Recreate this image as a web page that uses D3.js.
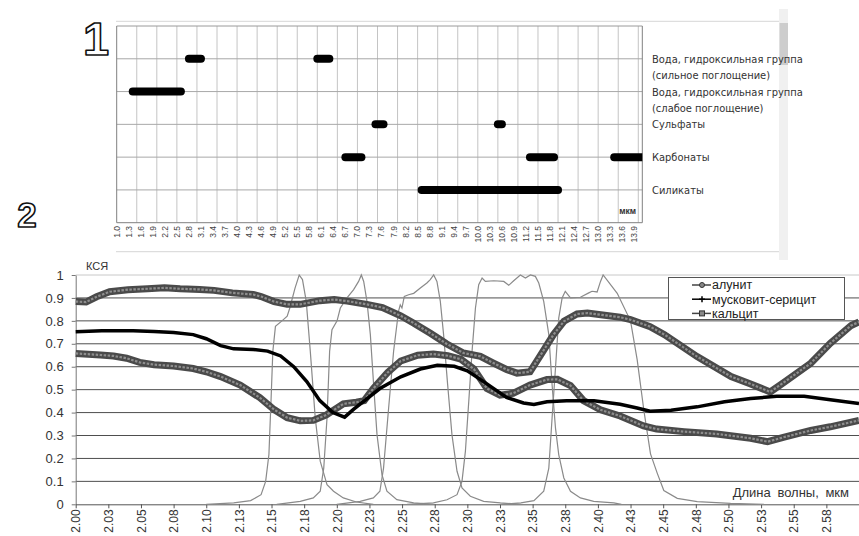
<!DOCTYPE html>
<html>
<head>
<meta charset="utf-8">
<script src="https://cdn.jsdelivr.net/npm/d3@7"></script>
<style>
  body { margin: 0; background: #fff; }
  svg { display: block; }
</style>
</head>
<body>
<div id="chart"></div>
<script>
// ---------- panel 1: absorption ranges ----------
let topTickLabels = ["1.0","1.3","1.6","1.9","2.2","2.5","2.8","3.1","3.4","3.7","4.0","4.3","4.6","4.9",
  "5.2","5.5","5.8","6.1","6.4","6.7","7.0","7.3","7.6","7.9","8.2","8.5","8.8","9.1","9.4","9.7",
  "10.0","10.3","10.6","10.9","11.2","11.5","11.8","12.1","12.4","12.7","13.0","13.3","13.6","13.9"];

let groupNames = [
  ["Вода, гидроксильная группа", "(сильное поглощение)"],
  ["Вода, гидроксильная группа", "(слабое поглощение)"],
  ["Сульфаты"],
  ["Карбонаты"],
  ["Силикаты"]
];

// one entry per black bar: group index, start and end wavelength (мкм)
let barGroup = [0, 0, 1, 2, 2, 3, 3, 3, 4];
let barFrom  = [2.8, 6.0, 1.4, 7.45, 10.5, 6.7, 11.3, 13.4, 8.6];
let barTo    = [3.1, 6.3, 2.6, 7.65, 10.6, 7.1, 11.9, 14.2, 12.0];

// ---------- panel 2: spectra (КСЯ) ----------
let yTicks = [0, 0.1, 0.2, 0.3, 0.4, 0.5, 0.6, 0.7, 0.8, 0.9, 1];
let xTicks = [2.000,2.025,2.050,2.075,2.100,2.125,2.150,2.175,2.200,2.225,2.250,2.275,
  2.300,2.325,2.350,2.375,2.400,2.425,2.450,2.475,2.500,2.525,2.550,2.575];
let xTickLabels = ["2.00","2.03","2.05","2.08","2.10","2.13","2.15","2.18","2.20","2.23","2.25","2.28",
  "2.30","2.33","2.35","2.38","2.40","2.43","2.45","2.48","2.50","2.53","2.55","2.58"];

let seriesNames = ["алунит", "мусковит-серицит", "кальцит"];

let alunite = [[2.000,0.658],[2.019,0.651],[2.029,0.647],[2.039,0.637],[2.049,0.619],[2.060,0.609],
  [2.075,0.603],[2.090,0.592],[2.100,0.578],[2.111,0.557],[2.126,0.520],[2.141,0.465],[2.152,0.413],
  [2.162,0.378],[2.172,0.364],[2.182,0.366],[2.192,0.390],[2.205,0.438],[2.215,0.445],[2.221,0.452],
  [2.228,0.505],[2.239,0.575],[2.249,0.625],[2.262,0.650],[2.274,0.655],[2.285,0.648],[2.295,0.633],
  [2.305,0.590],[2.315,0.505],[2.325,0.476],[2.335,0.484],[2.348,0.520],[2.361,0.544],[2.369,0.545],
  [2.379,0.518],[2.389,0.452],[2.402,0.412],[2.417,0.385],[2.435,0.342],[2.445,0.328],[2.466,0.317],
  [2.491,0.307],[2.517,0.288],[2.530,0.273],[2.542,0.292],[2.563,0.322],[2.578,0.338],[2.600,0.366]];

let muscovite = [[2.000,0.753],[2.020,0.757],[2.044,0.757],[2.060,0.754],[2.075,0.749],[2.090,0.740],
  [2.100,0.722],[2.111,0.692],[2.121,0.678],[2.136,0.675],[2.147,0.668],[2.157,0.647],[2.167,0.600],
  [2.177,0.535],[2.187,0.452],[2.197,0.400],[2.206,0.380],[2.213,0.415],[2.223,0.460],[2.233,0.505],
  [2.249,0.556],[2.264,0.590],[2.277,0.606],[2.290,0.602],[2.300,0.582],[2.315,0.525],[2.330,0.466],
  [2.343,0.442],[2.351,0.435],[2.361,0.447],[2.376,0.452],[2.397,0.452],[2.417,0.436],[2.430,0.420],
  [2.440,0.406],[2.456,0.410],[2.476,0.425],[2.497,0.447],[2.517,0.461],[2.537,0.471],[2.558,0.471],
  [2.578,0.456],[2.600,0.440]];

let calcite = [[2.000,0.884],[2.008,0.882],[2.016,0.905],[2.026,0.927],[2.040,0.936],[2.055,0.940],
  [2.068,0.944],[2.080,0.940],[2.095,0.937],[2.106,0.933],[2.120,0.922],[2.136,0.915],[2.142,0.906],
  [2.152,0.884],[2.162,0.872],[2.172,0.872],[2.187,0.888],[2.198,0.893],[2.208,0.886],[2.223,0.872],
  [2.235,0.858],[2.249,0.822],[2.259,0.790],[2.272,0.745],[2.284,0.700],[2.297,0.660],[2.310,0.645],
  [2.320,0.616],[2.330,0.588],[2.338,0.572],[2.348,0.578],[2.356,0.650],[2.366,0.740],[2.374,0.798],
  [2.384,0.830],[2.392,0.834],[2.417,0.816],[2.425,0.805],[2.440,0.775],[2.451,0.740],[2.476,0.644],
  [2.502,0.557],[2.517,0.525],[2.532,0.490],[2.542,0.530],[2.563,0.615],[2.578,0.702],[2.594,0.780],
  [2.600,0.795]];

// sensor band responses (thin grey curves)
let band5 = [[2.100,0],[2.121,0.006],[2.134,0.016],[2.142,0.042],[2.1455,0.10],[2.148,0.217],[2.1496,0.45],
  [2.151,0.667],[2.153,0.776],[2.158,0.80],[2.162,0.82],[2.164,0.856],[2.168,0.943],[2.1712,1.0],
  [2.1737,0.98],[2.1766,0.885],[2.1797,0.667],[2.1835,0.376],[2.1873,0.188],[2.1925,0.086],
  [2.1975,0.057],[2.205,0.028],[2.215,0.010],[2.228,0]];
let band6 = [[2.154,0],[2.172,0.013],[2.182,0.028],[2.1873,0.057],[2.190,0.158],[2.1925,0.376],
  [2.1945,0.667],[2.1963,0.762],[2.2002,0.80],[2.2027,0.856],[2.2078,0.90],[2.2129,0.936],[2.2167,0.972],
  [2.2188,1.0],[2.2206,0.972],[2.2231,0.885],[2.2257,0.74],[2.2282,0.522],[2.2308,0.304],[2.2346,0.129],
  [2.2384,0.057],[2.246,0.020],[2.2589,0.006],[2.274,0]];
let band7 = [[2.200,0],[2.2179,0.013],[2.228,0.028],[2.233,0.057],[2.2358,0.158],[2.2397,0.42],
  [2.2435,0.667],[2.2473,0.843],[2.2486,0.87],[2.2499,0.856],[2.2517,0.907],[2.255,0.914],[2.2589,0.92],
  [2.264,0.943],[2.269,0.965],[2.2716,0.98],[2.2742,1.0],[2.2767,0.972],[2.2793,0.885],[2.2818,0.74],
  [2.2849,0.522],[2.2882,0.304],[2.2921,0.144],[2.2959,0.071],[2.3023,0.035],[2.3125,0.013],
  [2.3253,0.006],[2.341,0]];
let band8 = [[2.2538,0],[2.274,0.006],[2.2844,0.020],[2.2921,0.042],[2.2959,0.10],[2.2985,0.231],
  [2.3011,0.45],[2.3036,0.667],[2.3062,0.856],[2.3087,0.958],[2.3113,0.987],[2.3138,0.972],[2.3202,0.975],
  [2.3279,0.972],[2.3317,0.955],[2.3355,0.975],[2.3406,1.0],[2.3445,0.987],[2.3483,1.0],[2.3521,0.994],
  [2.3547,0.965],[2.3585,0.885],[2.3624,0.74],[2.3649,0.522],[2.3675,0.333],[2.370,0.217],[2.3739,0.115],
  [2.379,0.057],[2.3866,0.028],[2.3968,0.013],[2.4122,0.006],[2.418,0]];
let band9 = [[2.3253,0],[2.341,0.006],[2.351,0.016],[2.3585,0.057],[2.3624,0.158],[2.3649,0.376],
  [2.3675,0.593],[2.370,0.812],[2.3726,0.90],[2.375,0.929],[2.379,0.90],[2.3866,0.903],[2.393,0.922],
  [2.3955,0.929],[2.3994,0.926],[2.402,0.972],[2.404,1.0],[2.4148,0.92],[2.425,0.80],[2.4301,0.63],
  [2.4352,0.41],[2.4403,0.22],[2.4455,0.135],[2.4505,0.06],[2.4608,0.026],[2.4761,0.012],
  [2.5016,0.004],[2.5272,0]];
let bandCurves = [band5, band6, band7, band8, band9];

// ================= drawing =================
let svg = d3.select("#chart").append("svg")
  .attr("width", 859)
  .attr("height", 536);

// ---- figure numbers (outlined digits)
function outlinedDigit(label, x, y, size) {
  svg.append("text")
    .attr("x", x).attr("y", y)
    .attr("text-anchor", "middle")
    .attr("font-family", "Liberation Sans, Arial, sans-serif")
    .attr("font-weight", "bold")
    .attr("font-size", size)
    .attr("fill", "#fff")
    .attr("stroke", "#111")
    .attr("stroke-width", 1.6)
    .attr("stroke-linejoin", "round")
    .text(label);
}
outlinedDigit("1", 96, 55, 47);
outlinedDigit("2", 27, 227, 35);

// ---- panel 1
let tx = d3.scaleLinear().domain([1.0, 14.1]).range([116.7, 642.3]);
let ty = d3.scaleLinear().domain([0, 6]).range([26, 222.7]);

// spreadsheet frame lines and scrollbar
[21.3, 251.7].forEach(y =>
  svg.append("line")
    .attr("x1", 116).attr("x2", 785)
    .attr("y1", y).attr("y2", y)
    .attr("stroke", "#d6d6d6"));

svg.append("rect")
  .attr("x", 779).attr("y", 9)
  .attr("width", 9).attr("height", 251)
  .attr("fill", "#f0f0f0");
svg.append("rect")
  .attr("x", 779.5).attr("y", 23)
  .attr("width", 8.5).attr("height", 42)
  .attr("fill", "#cdcdcd");

let g1 = svg.append("g");

// vertical grid every 0.5 мкм
g1.selectAll(".vgrid")
  .data(d3.range(1.5, 14.01, 0.5))
  .enter().append("line")
  .attr("x1", d => tx(d)).attr("x2", d => tx(d))
  .attr("y1", ty(0)).attr("y2", ty(6))
  .attr("stroke", "#c4c4c4");

// horizontal grid on each group row
g1.selectAll(".hgrid")
  .data(d3.range(0, 6))
  .enter().append("line")
  .attr("x1", tx.range()[0]).attr("x2", tx.range()[1])
  .attr("y1", d => ty(d)).attr("y2", d => ty(d))
  .attr("stroke", d => d === 0 ? "#9a9a9a" : "#a8a8a8");

// plot borders
g1.append("line")
  .attr("x1", tx.range()[0]).attr("x2", tx.range()[0])
  .attr("y1", ty(0)).attr("y2", ty(6)).attr("stroke", "#808080");
g1.append("line")
  .attr("x1", tx.range()[1]).attr("x2", tx.range()[1])
  .attr("y1", ty(0)).attr("y2", ty(6)).attr("stroke", "#808080");
g1.append("line")
  .attr("x1", tx.range()[0]).attr("x2", tx.range()[1])
  .attr("y1", ty(6)).attr("y2", ty(6)).attr("stroke", "#808080");

// clip so the last carbonate bar stops flat at the border
svg.append("clipPath").attr("id", "clip1")
  .append("rect")
  .attr("x", tx.range()[0]).attr("y", ty(0))
  .attr("width", tx.range()[1] - tx.range()[0])
  .attr("height", ty(6) - ty(0));

g1.append("g").attr("clip-path", "url(#clip1)")
  .selectAll("line")
  .data(barGroup.map((grp, i) => ({grp: grp, from: barFrom[i], to: barTo[i]})))
  .enter().append("line")
  .attr("x1", d => tx(d.from)).attr("x2", d => tx(d.to))
  .attr("y1", d => ty(d.grp + 1)).attr("y2", d => ty(d.grp + 1))
  .attr("stroke", "#000")
  .attr("stroke-width", 8)
  .attr("stroke-linecap", "round");

// tick labels, rotated
g1.selectAll(".tlabel")
  .data(topTickLabels)
  .enter().append("text")
  .attr("transform", d => `translate(${tx(+d)},226) rotate(-90)`)
  .attr("text-anchor", "end")
  .attr("dy", "0.35em")
  .attr("font-family", "Liberation Sans Narrow, Liberation Sans, sans-serif")
  .attr("font-size", 8.5)
  .attr("fill", "#444")
  .text(d => d);

g1.append("text")
  .attr("x", 636).attr("y", 214)
  .attr("text-anchor", "end")
  .attr("font-family", "Liberation Sans, Arial, sans-serif")
  .attr("font-weight", "bold")
  .attr("font-size", 8.5)
  .attr("fill", "#333")
  .text("мкм");

// group names on the right
groupNames.forEach((lines, i) => {
  lines.forEach((t, j) => {
    g1.append("text")
      .attr("x", 652)
      .attr("y", ty(i + 1) + 4 + j * 16)
      .attr("font-family", "Liberation Sans Narrow, DejaVu Sans Condensed, sans-serif")
      .attr("font-size", 11)
      .attr("fill", "#333")
      .text(t);
  });
});

// ---- panel 2
let bx = d3.scaleLinear().domain([2.0, 2.6]).range([75.7, 859]);
let by = d3.scaleLinear().domain([0, 1]).range([504.3, 275]);

let g2 = svg.append("g");

g2.selectAll(".grid2")
  .data(yTicks.filter(d => d > 0))
  .enter().append("line")
  .attr("x1", bx(2.0)).attr("x2", bx(2.6))
  .attr("y1", d => by(d)).attr("y2", d => by(d))
  .attr("stroke", d => d === 1 ? "#c8c8c8" : "#4e4e4e");

let yAxis = g2.append("g")
  .attr("transform", `translate(${bx(2.0)},0)`)
  .call(d3.axisLeft(by).tickValues(yTicks).tickSize(4).tickSizeOuter(0).tickPadding(8)
    .tickFormat(d => (d === 0 || d === 1) ? String(d) : d.toFixed(1)));
yAxis.selectAll("text")
  .attr("font-family", "Liberation Sans, Arial, sans-serif")
  .attr("font-size", 13)
  .attr("fill", "#333");
yAxis.selectAll("line, path").attr("stroke", "#777");

let xAxis = g2.append("g")
  .attr("transform", `translate(0,${by(0)})`)
  .call(d3.axisBottom(bx).tickValues(xTicks).tickSize(4).tickSizeOuter(0)
    .tickFormat((d, i) => xTickLabels[i]));
xAxis.selectAll("text")
  .attr("transform", "rotate(-90)")
  .attr("text-anchor", "end")
  .attr("x", -5).attr("y", 0).attr("dy", "0.35em")
  .attr("font-family", "Liberation Sans, Arial, sans-serif")
  .attr("font-size", 12)
  .attr("fill", "#333");
xAxis.selectAll("line, path").attr("stroke", "#555");

let line = d3.line()
  .x(d => bx(d[0]))
  .y(d => by(d[1]));

// thin band response curves
g2.selectAll(".band")
  .data(bandCurves)
  .enter().append("path")
  .attr("d", line)
  .attr("fill", "none")
  .attr("stroke", "#8a8a8a")
  .attr("stroke-width", 1.2);

// thick spectra: dense square markers look like a chain
[alunite, calcite].forEach(s => {
  g2.append("path").datum(s)
    .attr("d", line)
    .attr("fill", "none")
    .attr("stroke", "#4a4a4a")
    .attr("stroke-width", 7);
  g2.append("path").datum(s)
    .attr("d", line)
    .attr("fill", "none")
    .attr("stroke", "#8e8e8e")
    .attr("stroke-width", 2.2)
    .attr("stroke-dasharray", "2.5,1.5");
});
g2.append("path").datum(muscovite)
  .attr("d", line)
  .attr("fill", "none")
  .attr("stroke", "#000")
  .attr("stroke-width", 3.5);

// axis titles
g2.append("text")
  .attr("x", 86).attr("y", 270)
  .attr("font-family", "Liberation Sans, Arial, sans-serif")
  .attr("font-size", 11)
  .attr("fill", "#333")
  .text("КСЯ");

g2.append("text")
  .attr("x", 849).attr("y", 497)
  .attr("text-anchor", "end")
  .attr("word-spacing", 3)
  .attr("font-family", "Liberation Sans, Arial, sans-serif")
  .attr("font-size", 13)
  .attr("fill", "#333")
  .text("Длина волны, мкм");

// legend
let legend = g2.append("g");
legend.append("rect")
  .attr("x", 668.5).attr("y", 277.5)
  .attr("width", 176).attr("height", 42)
  .attr("fill", "#fff")
  .attr("stroke", "#555");

seriesNames.forEach((name, i) => {
  let y = 285 + i * 14.2;
  legend.append("line")
    .attr("x1", 692).attr("x2", 711)
    .attr("y1", y).attr("y2", y)
    .attr("stroke", i === 1 ? "#000" : "#444")
    .attr("stroke-width", 1.5);
  if (i === 0) {
    legend.append("circle").attr("cx", 702).attr("cy", y).attr("r", 2.5)
      .attr("fill", "#888").attr("stroke", "#333");
  } else if (i === 1) {
    legend.append("path").attr("d", `M699,${y}h6M702,${y - 3}v6`)
      .attr("stroke", "#000").attr("stroke-width", 1.5);
  } else {
    legend.append("rect").attr("x", 699.5).attr("y", y - 2.5).attr("width", 5).attr("height", 5)
      .attr("fill", "#888").attr("stroke", "#333");
  }
  legend.append("text")
    .attr("x", 712).attr("y", y)
    .attr("dy", "0.35em")
    .attr("font-family", "Liberation Sans, Arial, sans-serif")
    .attr("font-size", 12.5)
    .attr("fill", "#222")
    .text(name);
});
</script>
</body>
</html>
